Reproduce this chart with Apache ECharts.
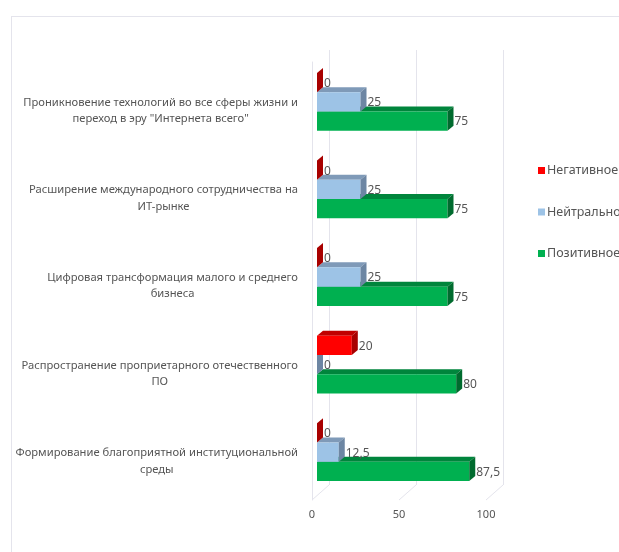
<!DOCTYPE html>
<html><head><meta charset="utf-8">
<script src="https://cdn.jsdelivr.net/npm/echarts@6/dist/echarts.min.js"></script>
<style>html,body{margin:0;padding:0;background:#fff}#c{width:619px;height:552px}</style>
</head><body><div id="c"></div>
<script>
const categories = [
  'Проникновение технологий во все сферы жизни и\nпереход в эру "Интернета всего"',
  'Расширение международного сотрудничества на\nИТ-рынке',
  'Цифровая трансформация малого и среднего\nбизнеса',
  'Распространение проприетарного отечественного\nПО',
  'Формирование благоприятной институциональной\nсреды'
];
const negative = [0, 0, 0, 20, 0];
const neutral = [25, 25, 25, 0, 12.5];
const positive = [75, 75, 75, 80, 87.5];
const seriesNames = ['Негативное', 'Нейтральное', 'Позитивное'];
const xTicks = [0, 50, 100];

const FONT = '"Noto Sans", sans-serif';
const TXT = '#555555';
const LINE = '#e4e4ec';

function fmt(v) { return String(v).replace('.', ','); }

function makeBar(slot, front, top, side) {
  return function (params, api) {
    const cat = api.value(0), val = api.value(1);
    const base = api.coord([0, cat]);
    const end = api.coord([val, cat]);
    const band = api.size([0, 1])[1];
    const h = band * 0.22;
    const ox = 5, oy = -4, dx = 6, dy = -5;
    const cy = base[1] + slot * h + oy;
    const x0 = base[0] + ox, x1 = end[0] + ox, y0 = cy - h / 2, y1 = cy + h / 2;
    return {
      type: 'group',
      children: [
        { type: 'polygon', shape: { points: [[x0, y0], [x1, y0], [x1 + dx, y0 + dy], [x0 + dx, y0 + dy]] }, style: { fill: top } },
        { type: 'rect', shape: { x: x0, y: y0, width: x1 - x0, height: h }, style: { fill: front } },
        { type: 'polygon', shape: { points: [[x1, y0], [x1 + dx, y0 + dy], [x1 + dx, y1 + dy], [x1, y1]] }, style: { fill: side } },
        { type: 'text', x: x1 + dx + 1, y: cy + 1, style: { text: fmt(val), fill: TXT, font: '12px ' + FONT, textVerticalAlign: 'middle', textAlign: 'left' } }
      ]
    };
  };
}

function toData(arr) { return arr.map((v, i) => [i, v]); }

const chart = echarts.init(document.getElementById('c'), null, { renderer: 'canvas' });
chart.setOption({
  backgroundColor: '#fff',
  animation: false,
  graphic: [
    { type: 'line', shape: { x1: 11, y1: 16.5, x2: 619, y2: 16.5 }, style: { stroke: LINE, lineWidth: 1 } },
    { type: 'line', shape: { x1: 11.5, y1: 16, x2: 11.5, y2: 552 }, style: { stroke: LINE, lineWidth: 1 } }
  ],
  legend: {
    orient: 'vertical', left: 533, top: 159,
    data: seriesNames, icon: 'rect', itemWidth: 7, itemHeight: 7, itemGap: 28.5,
    textStyle: { color: TXT, fontSize: 12.5, fontFamily: FONT, padding: [0, 0, 0, -3] }
  },
  grid: [
    { left: 312, width: 174, top: 62, height: 438, containLabel: false, outerBoundsMode: 'none' },
    { left: 329, width: 174, top: 50, height: 435, containLabel: false, outerBoundsMode: 'none' }
  ],
  xAxis: [
    { gridIndex: 0, type: 'value', min: 0, max: 100, interval: 50,
      axisLine: { show: false }, axisTick: { show: false }, splitLine: { show: false },
      axisLabel: { color: TXT, fontSize: 11, fontFamily: FONT, margin: 9 } },
    { gridIndex: 1, type: 'value', min: 0, max: 100, interval: 50,
      axisLine: { show: false }, axisTick: { show: false }, axisLabel: { show: false },
      splitLine: { show: true, lineStyle: { color: LINE, width: 1 } } }
  ],
  yAxis: [
    { gridIndex: 0, type: 'category', data: categories, inverse: true,
      axisLine: { show: true, lineStyle: { color: LINE } }, axisTick: { show: false },
      axisLabel: { color: TXT, fontSize: 11.2, fontFamily: FONT, margin: 14, lineHeight: 16.5,
        padding: [10, 0, 0, 0],
        formatter: v => '{a|' + v + '}',
        rich: { a: { align: 'center', color: TXT, fontSize: 11.2, fontFamily: FONT, lineHeight: 16.5 } } } },
    { gridIndex: 1, type: 'category', data: categories, inverse: true, show: false }
  ],
  series: [
    { type: 'custom', name: 'floor', xAxisIndex: 0, yAxisIndex: 0, silent: true,
      data: xTicks.map(v => [v]), encode: { x: 0 },
      renderItem: function (params, api) {
        const p = api.coord([api.value(0), 0]);
        const b = params.coordSys.y + params.coordSys.height;
        return { type: 'line', shape: { x1: p[0], y1: b, x2: p[0] + 17, y2: b - 15 }, style: { stroke: LINE, lineWidth: 1 } };
      } },
    { type: 'custom', name: 'Позитивное', xAxisIndex: 0, yAxisIndex: 0, itemStyle: { color: '#00b050' },
      data: toData(positive), encode: { x: 1, y: 0 },
      renderItem: makeBar(1, '#00b050', '#00853c', '#006b2e') },
    { type: 'custom', name: 'Нейтральное', xAxisIndex: 0, yAxisIndex: 0, itemStyle: { color: '#9dc3e6' },
      data: toData(neutral), encode: { x: 1, y: 0 },
      renderItem: makeBar(0, '#9dc3e6', '#7f9ab8', '#6d86a3') },
    { type: 'custom', name: 'Негативное', xAxisIndex: 0, yAxisIndex: 0, itemStyle: { color: '#ff0000' },
      data: toData(negative), encode: { x: 1, y: 0 },
      renderItem: makeBar(-1, '#ff0000', '#c00000', '#a80000') }
  ]
});
</script></body></html>
